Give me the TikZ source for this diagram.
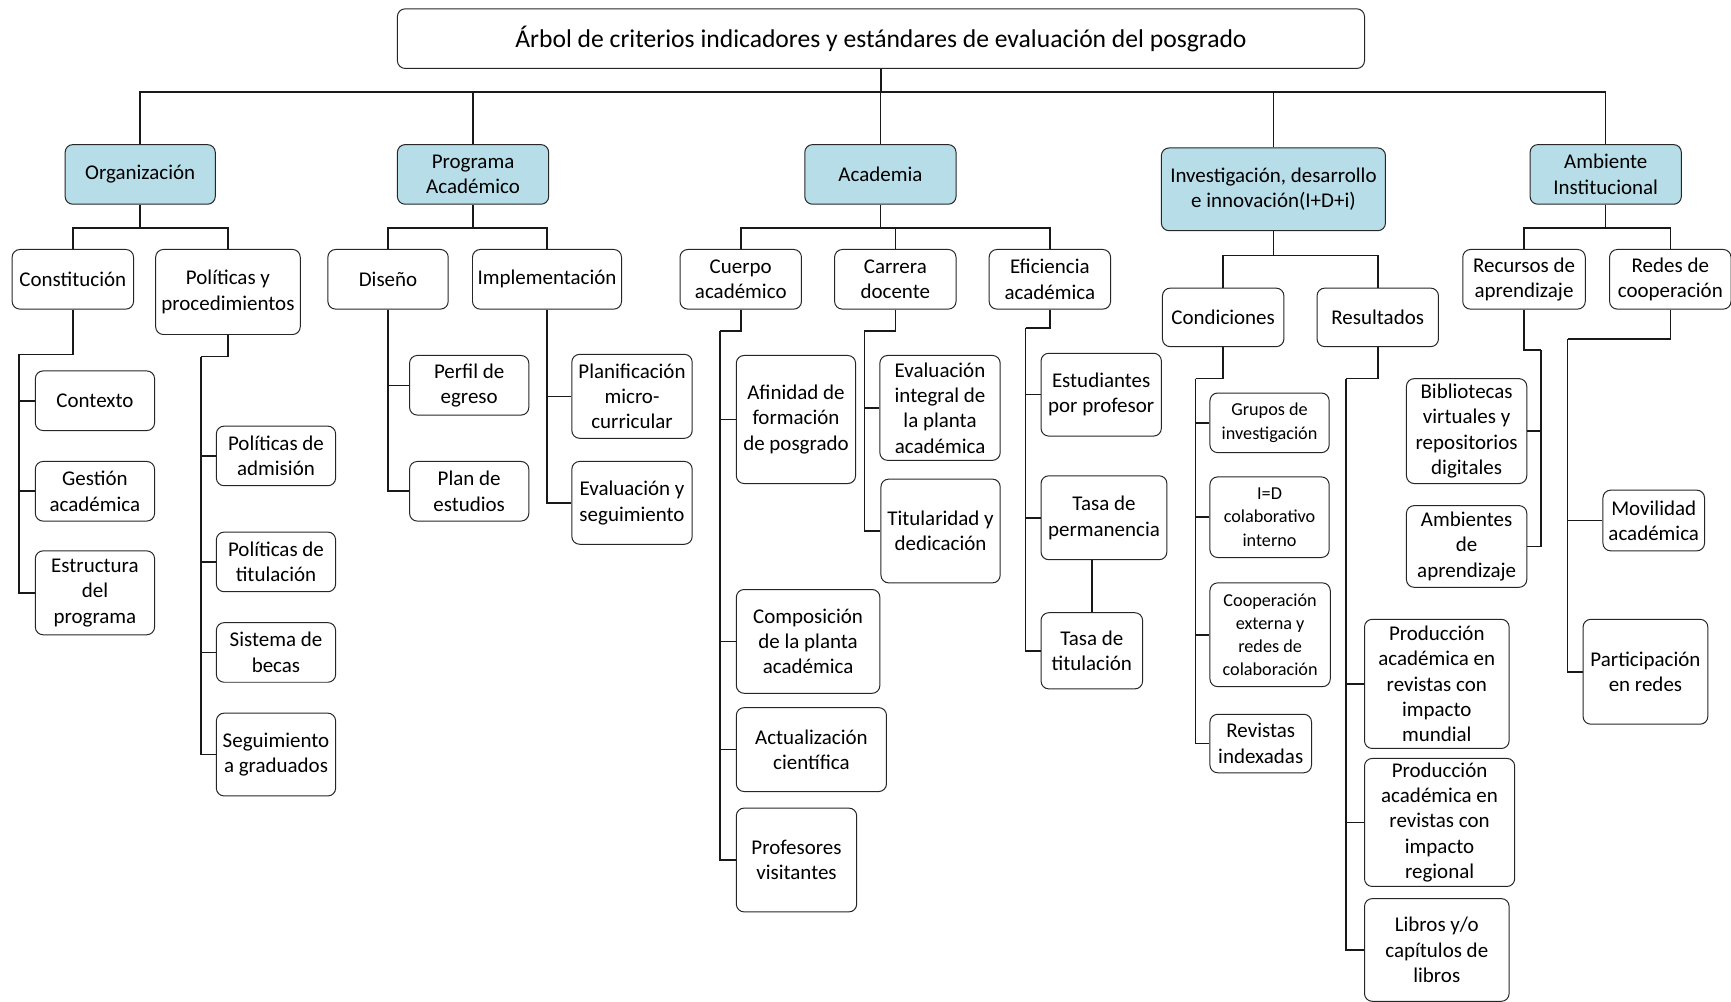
\documentclass[tikz,border=0pt]{standalone}
\usepackage{fontspec}
\setmainfont{Carlito}
\usepackage{tikz}
\usetikzlibrary{calc}
\usetikzlibrary{positioning}

\definecolor{azul}{HTML}{B7DDE8}

\tikzset{
  caja/.style={draw=black!85, line width=0.9pt, rounded corners=7pt, align=center,
    inner sep=1pt, font=\fontsize{19}{23}\selectfont},
  eje/.style={caja, fill=azul},
  chica/.style={font=\fontsize{16.5}{21}\selectfont},
  tam/.style 2 args={minimum width=#1, minimum height=#2},
  linea/.style={line width=1.4pt, black!90}
}

\begin{document}
\begin{tikzpicture}[x=1pt, y=-1pt]
\useasboundingbox (0,0) rectangle (1568,907);

\node[caja, tam={876}{54}, font=\fontsize{23.2}{27}\selectfont] (titulo) at (798,35) {Árbol de criterios indicadores y estándares de evaluación del posgrado};

\node[eje, tam={136}{54}] (org) at (127,158) {Organización};
\node[eje, tam={137}{54}] (prog) at (428.5,158) {Programa\\Académico};
\node[eje, tam={137}{54}] (acad) at (797.5,158) {Academia};
\node[eje, tam={203}{75}] (inv) at (1153.5,171.5) {Investigación, desarrollo\\e innovación(I+D+i)};
\node[eje, tam={137}{54}] (amb) at (1454.5,158) {Ambiente\\Institucional};

\node[caja, tam={110}{54}] (const) at (66,253) {Constitución};
\node[caja, tam={131}{77}] (polit) at (206.5,264.5) {Políticas y\\procedimientos};
\node[caja, tam={109}{54}] (dis) at (351.5,253) {Diseño};
\node[caja, tam={135}{54}] (impl) at (495.5,253) {Implementación};
\node[caja, tam={110}{54}] (cuerpo) at (671,253) {Cuerpo\\académico};
\node[caja, tam={110}{54}] (carr) at (811,253) {Carrera\\docente};
\node[caja, tam={110}{54}] (efic) at (951,253) {Eficiencia\\académica};
\node[caja, tam={110}{53}] (cond) at (1108,287.5) {Condiciones};
\node[caja, tam={110}{53}] (res) at (1248,287.5) {Resultados};
\node[caja, tam={111}{54}] (rec) at (1380.5,253) {Recursos de\\aprendizaje};
\node[caja, tam={110}{54}] (redes) at (1513,253) {Redes de\\cooperación};

\node[caja, tam={108}{54}] (ctx) at (86,363) {Contexto};
\node[caja, tam={108}{54}] (gest) at (86,445) {Gestión\\académica};
\node[caja, tam={108}{76}] (estr) at (86,537) {Estructura\\del\\programa};

\node[caja, tam={108}{54}] (padm) at (250,413) {Políticas de\\admisión};
\node[caja, tam={108}{54}] (ptit) at (250,509) {Políticas de\\titulación};
\node[caja, tam={108}{54}] (becas) at (250,591) {Sistema de\\becas};
\node[caja, tam={108}{75}] (segu) at (250,683.5) {Seguimiento\\a graduados};

\node[caja, tam={108}{54}] (perfil) at (425,349) {Perfil de\\egreso};
\node[caja, tam={108}{54}] (plan) at (425,445) {Plan de\\estudios};

\node[caja, tam={109}{76}] (planif) at (572.5,359) {Planificación\\micro-\\curricular};
\node[caja, tam={109}{75}] (evals) at (572.5,455.5) {Evaluación y\\seguimiento};

\node[caja, tam={108}{116}] (afin) at (721,380) {Afinidad de\\formación\\de posgrado};
\node[caja, tam={130}{94}] (comp) at (732,581) {Composición\\de la planta\\académica};
\node[caja, tam={136}{76}] (actu) at (735,679) {Actualización\\científica};
\node[caja, tam={109}{94}] (prof) at (721.5,779) {Profesores\\visitantes};

\node[caja, tam={109}{95}] (evint) at (851.5,369.5) {Evaluación\\integral de\\la planta\\académica};
\node[caja, tam={108}{94}] (titd) at (852,481) {Titularidad y\\dedicación};

\node[caja, tam={109}{75}] (estud) at (997.5,357.5) {Estudiantes\\por profesor};
\node[caja, tam={114}{76}] (perm) at (1000,469) {Tasa de\\permanencia};
\node[caja, tam={92}{69}] (tasat) at (989,589.5) {Tasa de\\titulación};

\node[caja, chica, tam={108}{54}] (grup) at (1150,383) {Grupos de\\investigación};
\node[caja, chica, tam={108}{73}] (iyd) at (1150,468.5) {I=D\\colaborativo\\interno};
\node[caja, chica, tam={109}{94}] (coop) at (1150.5,575) {Cooperación\\externa y\\redes de\\colaboración};
\node[caja, tam={92}{53}] (revi) at (1142,673.5) {Revistas\\indexadas};

\node[caja, tam={131}{117}] (pmun) at (1301.5,619.5) {Producción\\académica en\\revistas con\\impacto\\mundial};
\node[caja, tam={136}{116}] (preg) at (1304,745) {Producción\\académica en\\revistas con\\impacto\\regional};
\node[caja, tam={131}{93}] (libr) at (1301.5,860.5) {Libros y/o\\capítulos de\\libros};

\node[caja, tam={109}{95}] (bibl) at (1328.5,390.5) {Bibliotecas\\virtuales y\\repositorios\\digitales};
\node[caja, tam={109}{74}] (ambap) at (1328.5,495) {Ambientes\\de\\aprendizaje};

\node[caja, tam={92}{55}] (movi) at (1498,471.5) {Movilidad\\académica};
\node[caja, tam={113}{95}] (parti) at (1490.5,608.5) {Participación\\en redes};

% ramas principales
\draw[linea] (titulo.south) -- ++(0,21) coordinate (bus);
\foreach \n in {org,prog,acad,inv,amb}
  \draw[linea] (bus) -| (\n.north);

\draw[linea] (org.south) -- ++(0,21) coordinate (b1);
\draw[linea] (prog.south) -- ++(0,21) coordinate (b2);
\draw[linea] (acad.south) -- ++(0,21) coordinate (b3);
\draw[linea] (inv.south) -- ++(0,22) coordinate (b4);
\draw[linea] (amb.south) -- ++(0,21) coordinate (b5);
\foreach \a/\n in {b1/const,b1/polit,b2/dis,b2/impl,b3/cuerpo,b3/carr,b3/efic,b4/cond,b4/res,b5/rec,b5/redes}
  \draw[linea] (\a) -| (\n.north);

% codos
\coordinate (k1) at (17,321);
\coordinate (k2) at (182,323);
\coordinate (k3) at (652,300);
\coordinate (k4) at (783,300);
\coordinate (k5) at (929,297);
\coordinate (k6) at (1083,343);
\coordinate (k7) at (1219,343);
\coordinate (k8) at (1396,317);
\coordinate (k9) at (1420,307);

\draw[linea] (const.south) |- (k1);
\draw[linea] (polit.south) |- (k2);
\draw[linea] (cuerpo.south) |- (k3);
\draw[linea] (carr.south) |- (k4);
\draw[linea] (efic.south) |- (k5);
\draw[linea] (cond.south) |- (k6);
\draw[linea] (res.south) |- (k7);
\draw[linea] (rec.south) |- (k8);
\draw[linea] (redes.south) |- (k9);

\foreach \a/\n in {k1/ctx,k1/gest,k1/estr,k2/padm,k2/ptit,k2/becas,k2/segu,
    k3/afin,k3/comp,k3/actu,k3/prof,k4/evint,k4/titd,k5/estud,k5/perm,k5/tasat,
    k6/grup,k6/iyd,k6/coop,k6/revi,k7/pmun,k7/preg,k7/libr,k9/movi,k9/parti}
  \draw[linea] (\a) |- (\n.west);
\foreach \n in {bibl,ambap}
  \draw[linea] (k8) |- (\n.east);
\foreach \n in {perfil,plan}
  \draw[linea] (dis.south) |- (\n.west);
\foreach \n in {planif,evals}
  \draw[linea] (impl.south) |- (\n.west);

\draw[linea] (tasat.north) -- (tasat.north |- perm.south);
\end{tikzpicture}
\end{document}
